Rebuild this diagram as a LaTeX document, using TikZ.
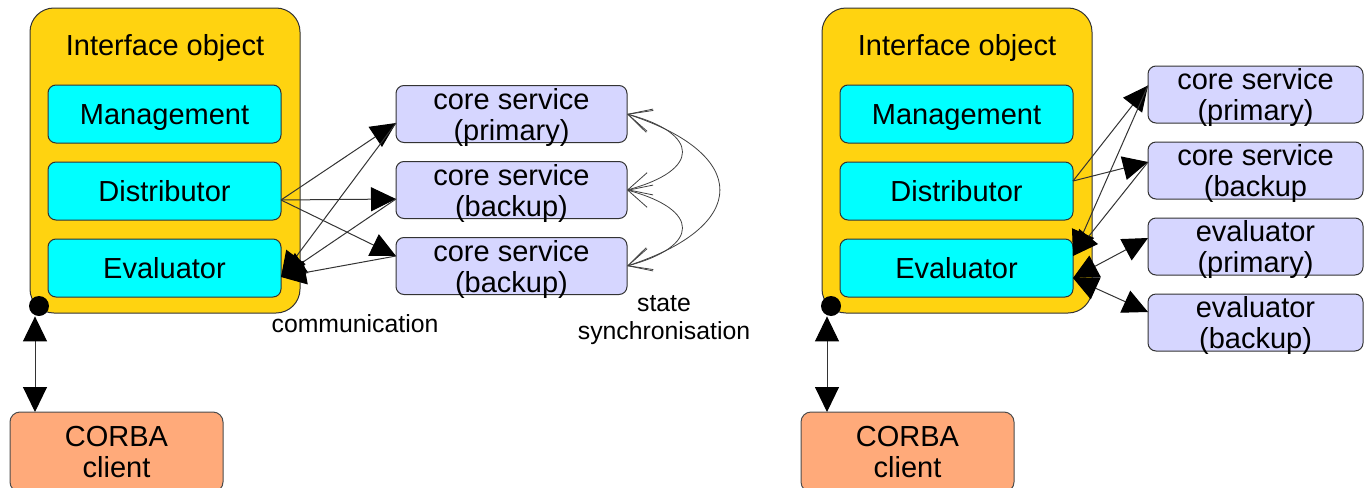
\documentclass[tikz,border=0pt]{standalone}
\usepackage{fontspec}
\setmainfont{Liberation Sans}
\usetikzlibrary{positioning,arrows.meta}
\definecolor{ifacegold}{RGB}{255,211,16}
\definecolor{partcyan}{RGB}{0,255,255}
\definecolor{svclilac}{RGB}{214,214,255}
\definecolor{clientsalmon}{RGB}{255,170,122}
\newcommand{\boxfont}{\fontsize{14.5}{15.5}\selectfont}
\newcommand{\notefont}{\fontsize{12.4}{14}\selectfont}

\tikzset{
  iface/.style={draw=black!80, line width=.5pt, fill=ifacegold, rounded corners=12pt,
    minimum width=135pt, minimum height=152.5pt},
  part/.style={draw=black!80, line width=.5pt, fill=partcyan, rounded corners=4pt,
    minimum width=116.5pt, minimum height=29pt, inner sep=0pt, outer sep=0pt,
    text height=10.4pt, text depth=0pt, font=\boxfont},
  svc/.style={draw=black!80, line width=.5pt, fill=svclilac, rounded corners=4pt,
    minimum height=28.5pt, inner sep=0pt, outer sep=0pt, text depth=0pt, align=center, font=\boxfont},
  client/.style={draw=black!70, line width=.5pt, fill=clientsalmon, rounded corners=5pt,
    minimum width=106.5pt, minimum height=40pt, inner sep=0pt, outer sep=0pt, align=center, font=\boxfont},
  dot/.style={circle, fill=black, minimum size=10pt, inner sep=0pt},
  comm/.style={draw=black!80, line width=.5pt, ->},
  sync/.style={draw=black!75, line width=.4pt, <->, >={Straight Barb[length=11.5pt,width=11.5pt]}}
}

\begin{document}
\begin{tikzpicture}[x=.5pt, y=.5pt, >={Triangle[length=12.5pt,width=12pt,color=black]}, node distance=9.5pt]
  \useasboundingbox (0,0) rectangle (1364,-487);

  % replicated core services
  \node[iface] (ifaceL) at (165,-160.5) {};
  \node[font=\boxfont, anchor=base] (titleL) at (165,-55) {Interface object};
  \node[part] (mgmtL) at (164.5,-114) {Management};
  \node[part] (distL) [below = of mgmtL] {Distributor};
  \node[part] (evalL) [below = of distL] {Evaluator};
  \node[svc, minimum width=115.5pt] (cspL) [right = 57.5pt of mgmtL] {core service\\(primary)};
  \node[svc, minimum width=115.5pt] (cbL) [below = of cspL] {core service\\(backup)};
  \node[svc, minimum width=115.5pt] (cb2L) [below = of cbL] {core service\\(backup)};
  \node[dot] (dotL) at (39,-306) {};
  \node[client] (corbaL) at (116.5,-452) {CORBA\\client};
  \node[font=\notefont, anchor=base] (commL) at (355,-332) {communication};
  \node[font=\notefont, align=center] (syncL) at (664,-319.6) {state\\synchronisation};

  \path ([yshift=-4.5pt]distL.east) edge[comm] ([yshift=-4.5pt]cspL.west)
        ([yshift=-4.5pt]distL.east) edge[comm] ([yshift=-4.5pt]cbL.west)
        ([yshift=-4.5pt]distL.east) edge[comm] ([yshift=5pt]cb2L.west)
        ([yshift=-4.5pt]cspL.west) edge[comm] ([yshift=-4.5pt]evalL.east)
        ([yshift=-4.5pt]cbL.west) edge[comm] ([yshift=-4.5pt]evalL.east)
        ([yshift=5pt]cb2L.west) edge[comm] ([yshift=-4.5pt]evalL.east);
  \path (cspL.east) edge[sync, out=-15, in=15, looseness=2.57] (cbL.east)
        (cbL.east) edge[sync, out=-15, in=15, looseness=2.57] (cb2L.east)
        (cspL.east) edge[sync, out=-18, in=18, looseness=2.19] (cb2L.east);
  \path ([xshift=-2pt]dotL.south) edge[comm, <->] ([xshift=-2pt]dotL.south |- corbaL.north);

  % replicated evaluators
  \node[iface] (ifaceR) at (957,-160.5) {};
  \node[font=\boxfont, anchor=base] (titleR) at (957,-55) {Interface object};
  \node[part] (mgmtR) at (956.5,-114) {Management};
  \node[part] (distR) [below = of mgmtR] {Distributor};
  \node[part] (evalR) [below = of distR] {Evaluator};
  \node[svc, minimum width=107.5pt] (cspR) at (1255.5,-94.5) {core service\\(primary)};
  \node[svc, minimum width=107.5pt] (cbR) [below = of cspR] {core service\\(backup};
  \node[svc, minimum width=107.5pt] (evpR) [below = of cbR] {evaluator\\(primary)};
  \node[svc, minimum width=107.5pt] (evbR) [below = of evpR] {evaluator\\(backup)};
  \node[dot] (dotR) at (831,-306) {};
  \node[client] (corbaR) at (907.5,-452) {CORBA\\client};

  \path ([yshift=5pt]distR.east) edge[comm] ([yshift=4.5pt]cspR.west)
        ([yshift=5pt]distR.east) edge[comm] ([yshift=4.25pt]cbR.west)
        ([yshift=4.5pt]cspR.west) edge[comm] ([yshift=6pt]evalR.east)
        ([yshift=4.25pt]cbR.west) edge[comm] ([yshift=6pt]evalR.east);
  \path ([yshift=-5pt]evalR.east) edge[comm, <->] ([yshift=4.25pt]evpR.west)
        ([yshift=-5pt]evalR.east) edge[comm, <->] ([yshift=5.25pt]evbR.west)
        ([xshift=-2pt]dotR.south) edge[comm, <->] ([xshift=-2pt]dotR.south |- corbaR.north);
\end{tikzpicture}
\end{document}
